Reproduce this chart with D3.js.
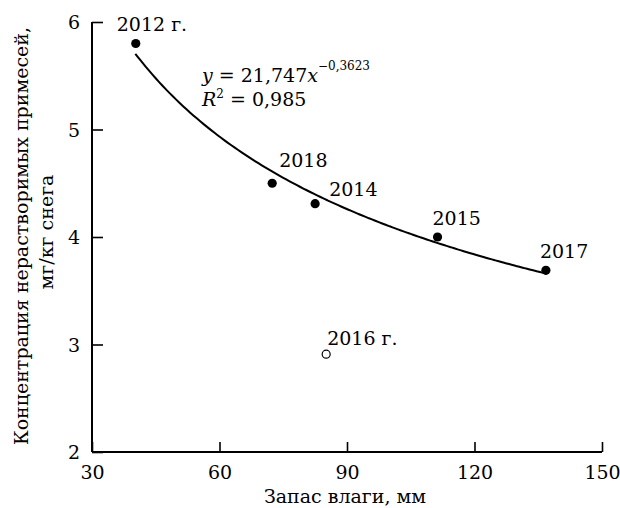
<!DOCTYPE html>
<html>
<head>
<meta charset="utf-8">
<script src="https://cdn.jsdelivr.net/npm/d3@7"></script>
<style>
  html, body { margin: 0; padding: 0; background: #fff; }
  svg { display: block; }
  text { font-family: "DejaVu Serif", "Liberation Serif", serif; fill: #000; }
</style>
</head>
<body>
<svg id="chart" width="620" height="508"></svg>
<script>
// Snow moisture reserve (mm) vs insoluble impurity concentration (mg/kg snow)
const years      = ["2012 г.", "2018", "2014", "2015", "2017"];
const moisture   = [40.3, 72.4, 82.5, 111.3, 136.8];
const impurity   = [5.80, 4.50, 4.31, 4.00, 3.69];

// Outlier season, excluded from the fit
const outlierYear     = ["2016 г."];
const outlierMoisture = [85.1];
const outlierImpurity = [2.91];

// Power-law fit y = a * x^b
const fitCoef   = [21.747, -0.3623];
const fitR2     = ["0,985"];
const fitRange  = [40.2, 137];

const xTicks = [30, 60, 90, 120, 150];
const yTicks = [2, 3, 4, 5, 6];

const svg = d3.select("#chart");
const m = { left: 92, right: 602, top: 22, bottom: 452 };

const x = d3.scaleLinear().domain([30, 150]).range([m.left, m.right]);
const y = d3.scaleLinear().domain([2, 6]).range([m.bottom, m.top]);

// Axes: ticks point inward
const xAxis = d3.axisBottom(x).tickValues(xTicks).tickSize(-10).tickPadding(18)
  .tickFormat(d3.format("d"));
const yAxis = d3.axisLeft(y).tickValues(yTicks).tickSize(-11).tickPadding(16)
  .tickFormat(d3.format("d"));

const gx = svg.append("g").attr("transform", `translate(0,${m.bottom})`).call(xAxis);
const gy = svg.append("g").attr("transform", `translate(${m.left},0)`).call(yAxis);

[gx, gy].forEach(g => {
  g.select(".domain").attr("stroke", "#000").attr("stroke-width", 2);
  g.selectAll(".tick line").attr("stroke", "#000").attr("stroke-width", 1.6);
  g.selectAll(".tick text").attr("font-size", 19)
    .attr("font-family", '"DejaVu Serif", serif').attr("fill", "#000");
});
gx.select(".domain").attr("d", `M${m.left},0H${m.right}`);
gy.select(".domain").attr("d", `M0,${m.bottom}V${m.top}`);
gx.selectAll(".tick text").attr("dy", "0.71em").attr("y", 14);
gy.selectAll(".tick text").attr("x", -12).attr("dy", "0.36em");

// Fitted curve
const fitPts = d3.range(0, 121).map(i => {
  const xv = fitRange[0] + (fitRange[1] - fitRange[0]) * i / 120;
  return [xv, fitCoef[0] * Math.pow(xv, fitCoef[1])];
});
svg.append("path")
  .datum(fitPts)
  .attr("fill", "none")
  .attr("stroke", "#000")
  .attr("stroke-width", 2)
  .attr("d", d3.line().x(d => x(d[0])).y(d => y(d[1])).curve(d3.curveBasis));

// Data points
const pts = years.map((yr, i) => ({ yr, xv: moisture[i], yv: impurity[i] }));
svg.append("g").selectAll("circle").data(pts).join("circle")
  .attr("cx", d => x(d.xv)).attr("cy", d => y(d.yv)).attr("r", 4.6)
  .attr("fill", "#000");

const out = outlierYear.map((yr, i) => ({ yr, xv: outlierMoisture[i], yv: outlierImpurity[i] }));
svg.append("g").selectAll("circle").data(out).join("circle")
  .attr("cx", d => x(d.xv)).attr("cy", d => y(d.yv)).attr("r", 4)
  .attr("fill", "#fff").attr("stroke", "#000").attr("stroke-width", 1.2);

// Point labels (offsets from the mark)
const labelOffset = {
  "2012 г.": [-19, -13],
  "2018":    [7, -16],
  "2014":    [14, -8],
  "2015":    [-5, -12],
  "2017":    [-6, -12],
  "2016 г.": [1, -9]
};
svg.append("g").selectAll("text").data(pts.concat(out)).join("text")
  .attr("x", d => x(d.xv) + labelOffset[d.yr][0])
  .attr("y", d => y(d.yv) + labelOffset[d.yr][1])
  .attr("font-size", 19)
  .text(d => d.yr);

// Equation
const eq = svg.append("text").attr("x", 202).attr("y", 82).attr("font-size", 19);
eq.append("tspan").attr("font-style", "italic").text("y");
eq.append("tspan").text(" = " + String(fitCoef[0]).replace(".", ","));
eq.append("tspan").attr("font-style", "italic").text("x");
eq.append("tspan").attr("font-size", 12).attr("dy", -12)
  .text("−" + String(-fitCoef[1]).replace(".", ","));

const r2 = svg.append("text").attr("x", 202).attr("y", 106).attr("font-size", 19);
r2.append("tspan").attr("font-style", "italic").text("R");
r2.append("tspan").attr("font-size", 12).attr("dy", -8).text("2");
r2.append("tspan").attr("dy", 8).text(" = " + fitR2[0]);

// Axis titles
svg.append("text")
  .attr("x", (m.left + m.right) / 2 - 2).attr("y", 503)
  .attr("text-anchor", "middle").attr("font-size", 19)
  .text("Запас влаги, мм");

const yc = (m.top + m.bottom) / 2 - 1;
svg.append("text")
  .attr("transform", `translate(28,${yc}) rotate(-90)`)
  .attr("text-anchor", "middle").attr("font-size", 19)
  .text("Концентрация нерастворимых примесей,");
svg.append("text")
  .attr("transform", `translate(53,${yc - 4}) rotate(-90)`)
  .attr("text-anchor", "middle").attr("font-size", 19)
  .text("мг/кг снега");
</script>
</body>
</html>
